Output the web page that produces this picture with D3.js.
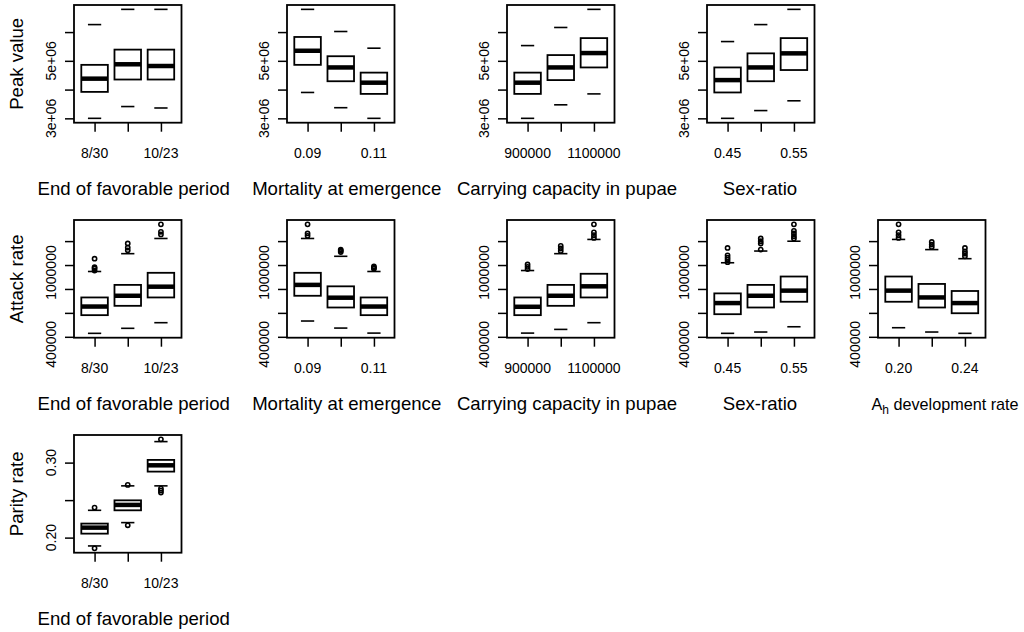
<!DOCTYPE html>
<html><head><meta charset="utf-8">
<script src="https://cdn.jsdelivr.net/npm/d3@7"></script>
<style>
body{margin:0;background:#fff}
svg{display:block}
text{font-family:"Liberation Sans",Arial,Helvetica,sans-serif;fill:#000}
</style>
</head><body>
<svg id="chart" width="1024" height="632"></svg>
<script>
// ---------------- DATA ----------------
const rowTitles = ["Peak value", "Attack rate", "Parity rate"];
const factorTitles = ["End of favorable period", "Mortality at emergence", "Carrying capacity in pupae", "Sex-ratio", "A_h development rate"];

const catEnd  = ["8/30", "9/26", "10/23"];
const catMort = ["0.09", "0.10", "0.11"];
const catK    = ["900000", "1000000", "1100000"];
const catSex  = ["0.45", "0.50", "0.55"];
const catAh   = ["0.20", "0.22", "0.24"];

// box stats per group: [lower whisker, Q1, median, Q3, upper whisker]
const peakEnd  = [[3.00e6,3.92e6,4.38e6,4.86e6,6.26e6],[3.41e6,4.35e6,4.88e6,5.39e6,6.79e6],[3.36e6,4.35e6,4.82e6,5.39e6,6.79e6]];
const peakMort = [[3.90e6,4.86e6,5.35e6,5.83e6,6.79e6],[3.37e6,4.29e6,4.77e6,5.16e6,6.02e6],[3.00e6,3.85e6,4.24e6,4.59e6,5.44e6]];
const peakK    = [[3.00e6,3.85e6,4.24e6,4.59e6,5.53e6],[3.47e6,4.33e6,4.77e6,5.20e6,6.16e6],[3.85e6,4.77e6,5.27e6,5.79e6,6.79e6]];
const peakSex  = [[3.00e6,3.90e6,4.33e6,4.77e6,5.67e6],[3.27e6,4.29e6,4.77e6,5.26e6,6.26e6],[3.61e6,4.68e6,5.26e6,5.79e6,6.79e6]];
const peakOut  = [[],[],[]];

const attackEnd     = [[429e3,581e3,653e3,729e3,946e3],[471e3,659e3,743e3,834e3,1095e3],[518e3,729e3,819e3,935e3,1222e3]];
const attackEndOut  = [[954e3,971e3,982e3,1053e3],[1123e3,1146e3,1180e3],[1256e3,1278e3,1340e3]];
const attackMort    = [[532e3,743e3,834e3,935e3,1222e3],[473e3,645e3,727e3,822e3,1073e3],[431e3,581e3,653e3,729e3,946e3]];
const attackMortOut = [[1244e3,1264e3,1340e3],[1109e3,1120e3,1129e3],[969e3,978e3,988e3]];
const attackK       = [[431e3,581e3,651e3,729e3,954e3],[462e3,659e3,743e3,834e3,1095e3],[518e3,729e3,822e3,927e3,1214e3]];
const attackKOut    = [[966e3,985e3,1005e3],[1117e3,1138e3,1160e3],[1227e3,1250e3,1273e3,1340e3]];
const attackSex     = [[429e3,589e3,682e3,763e3,1019e3],[440e3,645e3,743e3,834e3,1117e3],[484e3,693e3,786e3,904e3,1199e3]];
const attackSexOut  = [[1024e3,1045e3,1062e3,1081e3,1143e3],[1129e3,1180e3,1199e3,1222e3],[1222e3,1241e3,1264e3,1286e3,1340e3]];
const attackAh      = [[476e3,693e3,786e3,904e3,1214e3],[440e3,645e3,729e3,842e3,1129e3],[429e3,597e3,682e3,783e3,1053e3]];
const attackAhOut   = [[1227e3,1250e3,1273e3,1340e3],[1151e3,1171e3,1193e3],[1073e3,1095e3,1115e3,1143e3]];

const parityEnd    = [[0.1889,0.2053,0.2133,0.2187,0.2364],[0.2200,0.2364,0.2436,0.2497,0.2690],[0.2690,0.2880,0.2964,0.3036,0.3280]];
const parityEndOut = [[0.1857,0.2400],[0.2164,0.2703],[0.2600,0.2627,0.2653,0.3310]];

const peakTicks = [3e6, 4e6, 5e6, 6e6];
const peakTickLabels = ["3e+06", "4e+06", "5e+06", "6e+06"];
const attackTicks = [400000, 600000, 800000, 1000000, 1200000];
const attackTickLabels = ["400000", "600000", "800000", "1000000", "1200000"];
const parityTicks = [0.20, 0.25, 0.30];
const parityTickLabels = ["0.20", "0.25", "0.30"];

// ---------------- LAYOUT ----------------
const boxLeft = [74, 287, 507, 707, 878];
const boxW = 107.5;
const rowTop = [5, 220, 435];
const boxH = 117.7;
const titleCenter = [133.7, 346.7, 567, 760, 945];
const rowYLabelShift = [0, 7.5, 0];
const tickFont = 14, titleFont = 18.6;

const rows = [
  {title: rowTitles[0], ticks: peakTicks, labels: peakTickLabels,
   panels: [[catEnd, peakEnd, peakOut], [catMort, peakMort, peakOut], [catK, peakK, peakOut], [catSex, peakSex, peakOut]]},
  {title: rowTitles[1], ticks: attackTicks, labels: attackTickLabels,
   panels: [[catEnd, attackEnd, attackEndOut], [catMort, attackMort, attackMortOut], [catK, attackK, attackKOut], [catSex, attackSex, attackSexOut], [catAh, attackAh, attackAhOut]]},
  {title: rowTitles[2], ticks: parityTicks, labels: parityTickLabels,
   panels: [[catEnd, parityEnd, parityEndOut]]}
];

const svg = d3.select("#chart");
svg.append("rect").attr("width", 1024).attr("height", 632).attr("fill", "#fff");

function dropOverlaps(sel, gap) {
  // R-like: skip a label that overlaps the last drawn one
  let lastEnd = -Infinity;
  sel.each(function(d) {
    const t = d3.select(this);
    const len = this.getComputedTextLength();
    const c = +t.attr("data-c");
    const s = c - len / 2, e = c + len / 2;
    if (s < lastEnd + gap) t.remove();
    else lastEnd = e;
  });
}

rows.forEach((row, ri) => {
  const all = [];
  row.panels.forEach(p => { p[1].forEach(s => all.push(...s)); p[2].forEach(o => all.push(...o)); });
  const [mn, mx] = d3.extent(all);
  const ext = (mx - mn) * 0.04;
  const top = rowTop[ri];

  row.panels.forEach((p, ci) => {
    const [cats, stats, outs] = p;
    const left = boxLeft[ci];
    const x = d3.scaleLinear().domain([0.38, 3.62]).range([left, left + boxW]);
    const y = d3.scaleLinear().domain([mn - ext, mx + ext]).range([top + boxH, top]);
    const g = svg.append("g");

    // boxes
    stats.forEach((s, i) => {
      const c = i + 1;
      g.append("rect")
        .attr("x", x(c - 0.4)).attr("width", x(c + 0.4) - x(c - 0.4))
        .attr("y", y(s[3])).attr("height", y(s[1]) - y(s[3]))
        .attr("fill", "none").attr("stroke", "#000").attr("stroke-width", 1.8);
      g.append("line")
        .attr("x1", x(c - 0.4)).attr("x2", x(c + 0.4))
        .attr("y1", y(s[2])).attr("y2", y(s[2]))
        .attr("stroke", "#000").attr("stroke-width", 4.5);
      [s[0], s[4]].forEach(v => {
        g.append("line")
          .attr("x1", x(c - 0.2)).attr("x2", x(c + 0.2))
          .attr("y1", y(v)).attr("y2", y(v))
          .attr("stroke", "#000").attr("stroke-width", 1.6);
      });
      outs[i].forEach(v => {
        g.append("circle").attr("cx", x(c)).attr("cy", y(v)).attr("r", 2.1)
          .attr("fill", "none").attr("stroke", "#000").attr("stroke-width", 1.6);
      });
    });

    // frame
    g.append("rect").attr("x", left).attr("y", top).attr("width", boxW).attr("height", boxH)
      .attr("fill", "none").attr("stroke", "#000").attr("stroke-width", 1.8);

    // y axis ticks
    const ya = g.append("g").attr("transform", `translate(${left},0)`)
      .call(d3.axisLeft(y).tickValues(row.ticks).tickSize(9).tickFormat(""));
    ya.select(".domain").remove();
    ya.selectAll(".tick line").attr("stroke", "#000").attr("stroke-width", 1.5);

    // x axis ticks
    const xa = g.append("g").attr("transform", `translate(0,${top + boxH})`)
      .call(d3.axisBottom(x).tickValues([1, 2, 3]).tickSize(9).tickFormat(""));
    xa.select(".domain").remove();
    xa.selectAll(".tick line").attr("stroke", "#000").attr("stroke-width", 1.5);

    // y tick labels (rotated)
    const yl = g.selectAll(".ylab").data(row.ticks).enter().append("text")
      .attr("class", "ylab")
      .attr("data-c", d => -(y(d) + rowYLabelShift[ri]))
      .attr("transform", d => `translate(${left - 18},${y(d) + rowYLabelShift[ri]}) rotate(-90)`)
      .attr("text-anchor", "middle").attr("font-size", tickFont)
      .text((d, i) => row.labels[i]);
    dropOverlaps(yl, 11);

    // x tick labels
    const xl = g.selectAll(".xlab").data(cats).enter().append("text")
      .attr("class", "xlab")
      .attr("data-c", (d, i) => x(i + 1))
      .attr("x", (d, i) => x(i + 1)).attr("y", top + boxH + 35)
      .attr("text-anchor", "middle").attr("font-size", tickFont)
      .text(d => d);
    dropOverlaps(xl, 11);

    // x title
    const title = factorTitles[ci];
    const xt = g.append("text").attr("x", titleCenter[ci]).attr("y", top + boxH + 72)
      .attr("text-anchor", "middle").attr("font-size", titleFont);
    if (title.startsWith("A_h")) {
      xt.attr("font-size", 16.2);
      xt.append("tspan").text("A");
      xt.append("tspan").attr("font-size", 12).attr("dy", 4).text("h");
      xt.append("tspan").attr("dy", -4).text(title.slice(3));
    } else xt.text(title);

    // y title
    if (ci === 0) {
      g.append("text")
        .attr("transform", `translate(23,${top + boxH / 2}) rotate(-90)`)
        .attr("text-anchor", "middle").attr("font-size", titleFont)
        .text(row.title);
    }
  });
});
</script>
</body></html>
